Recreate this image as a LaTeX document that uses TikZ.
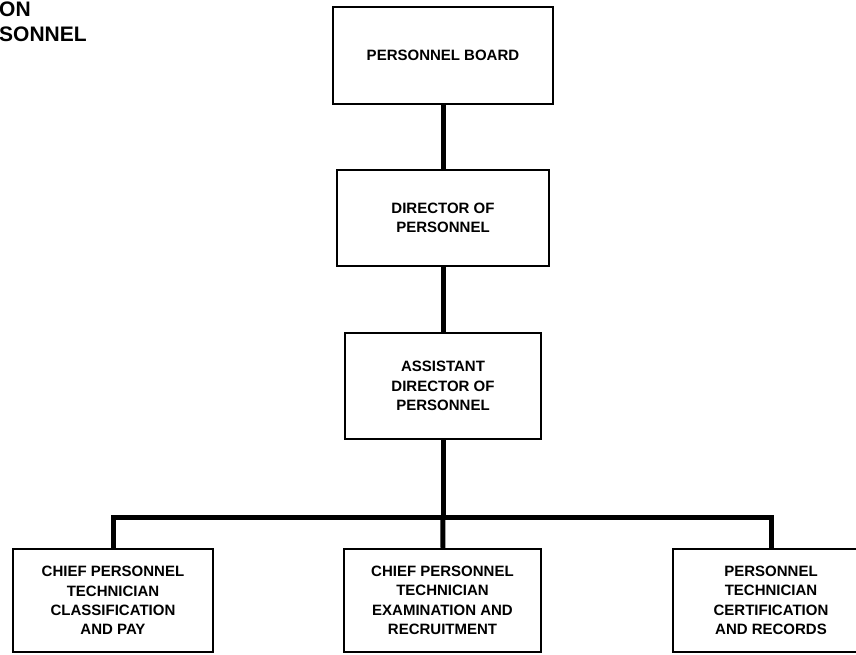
\documentclass[tikz,border=0pt]{standalone}
\usepackage{fontspec}
\setmainfont{Liberation Sans}
\usepackage{tikz}
\usetikzlibrary{positioning}

\tikzset{
  post/.style={draw, line width=2.5pt, inner sep=0pt, align=center,
    font=\fontsize{15}{19.5}\selectfont\bfseries},
  link/.style={line width=5pt, line cap=rect},
  heading/.style={inner sep=0pt, anchor=north west,
    font=\fontsize{21}{25}\selectfont\bfseries}
}

\begin{document}
\begin{tikzpicture}[line join=miter, x=1pt, y=-1pt]
\useasboundingbox (0,0) rectangle (856,654);
\clip (0,0) rectangle (856,654);
% title, cut off at the left
\node[heading] (titleA) at (-1,2) {ON};
\node[heading] (titleB) at (-1,27) {SONNEL};
% boxes
\node[post, minimum width=220pt, minimum height=97pt] (board) at (443,55.5) {PERSONNEL BOARD};
\node[post, minimum width=212pt, minimum height=96pt] (director) at (443,218) {DIRECTOR OF\\PERSONNEL};
\node[post, minimum width=196pt, minimum height=106pt] (assistant) at (443,386) {ASSISTANT\\DIRECTOR OF\\PERSONNEL};
\node[post, minimum width=200pt, minimum height=103pt] (classpay) at (113,600.5) {CHIEF PERSONNEL\\TECHNICIAN\\CLASSIFICATION\\AND PAY};
\node[post, minimum width=197pt, minimum height=103pt] (exam) at (442.5,600.5) {CHIEF PERSONNEL\\TECHNICIAN\\EXAMINATION AND\\RECRUITMENT};
\node[post, minimum width=196pt, minimum height=103pt] (certrec) at (771,600.5) {PERSONNEL\\TECHNICIAN\\CERTIFICATION\\AND RECORDS};
\coordinate (junction) at (443,517);
% lines
\draw[link, line cap=butt] (board) -- (director);
\draw[link, line cap=butt] (director) -- (assistant);
\draw[link, line cap=butt] (assistant) -- (junction);
\draw[link, line cap=butt] (junction) -- (exam);
\draw[link, line cap=butt] (classpay) |- (junction) -| (certrec);
\end{tikzpicture}
\end{document}
